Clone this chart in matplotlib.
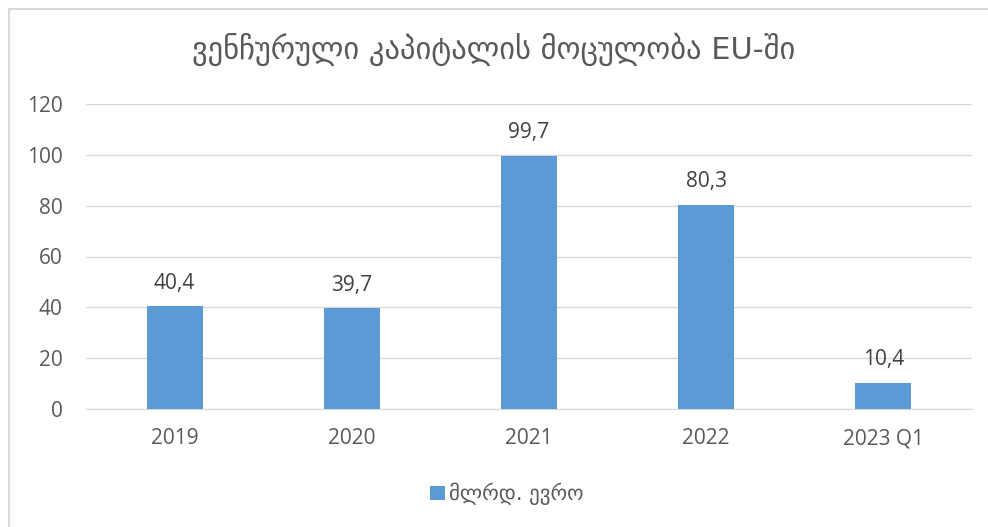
import matplotlib
matplotlib.use("Agg")
import matplotlib.pyplot as plt
from matplotlib.lines import Line2D

plt.rcParams['font.family'] = ['Open Sans', 'DejaVu Sans']

categories = ['2019', '2020', '2021', '2022', '2023 Q1']
values = [40.4, 39.7, 99.7, 80.3, 10.4]
labels = ['40,4', '39,7', '99,7', '80,3', '10,4']
yticks = [0, 20, 40, 60, 80, 100, 120]
title = 'ვენჩურული კაპიტალის მოცულობა EU-ში'
legend_label = 'მლრდ. ევრო'

W, H = 988, 527
fig = plt.figure(figsize=(W / 100, H / 100), dpi=100)
ax = fig.add_axes([86 / W, 118 / H, (972 - 86) / W, (423 - 118) / H])

text_color = '#595959'
bar_color = '#5B9BD5'
grid_color = '#D9D9D9'

x = range(len(categories))
bars = ax.bar(x, values, width=0.316, color=bar_color, zorder=3, label=legend_label)
for xi, v, lab in zip(x, values, labels):
    ax.annotate(lab, (xi, v), xytext=(0, 9), textcoords='offset points',
                ha='center', va='bottom', fontsize=15, color='#404040')

ax.set_xlim(-0.5, len(categories) - 0.5)
ax.set_ylim(0, 120)
ax.set_yticks(yticks)
ax.set_yticklabels([str(t) for t in yticks])
ax.set_xticks(list(x))
ax.set_xticklabels(categories)
ax.tick_params(axis='both', length=0, labelsize=15, colors=text_color)
ax.tick_params(axis='y', pad=17)
ax.tick_params(axis='x', pad=14)
ax.grid(axis='y', color=grid_color, linewidth=1, zorder=0)
for s in ['top', 'right', 'left']:
    ax.spines[s].set_visible(False)
ax.spines['bottom'].set_color(grid_color)
ax.spines['bottom'].set_zorder(1)

fig.text(0.5, 1 - 49 / H, title, ha='center', va='center', fontsize=22,
         color=text_color, family=['DejaVu Sans'])

leg = fig.legend(handles=[bars], labels=[legend_label], loc='center',
                 bbox_to_anchor=(507 / W, 1 - 494 / H), frameon=False,
                 fontsize=15, handlelength=0.7, handleheight=0.7,
                 handletextpad=0.2, labelcolor=text_color,
                 prop={'family': ['DejaVu Sans'], 'size': 15})

# chart-area border
fig.add_artist(Line2D([9 / W, 1], [1 - 9 / H, 1 - 9 / H], color='#D9D9D9', lw=1.5,
                      transform=fig.transFigure))
fig.add_artist(Line2D([9 / W, 9 / W], [0, 1 - 9 / H], color='#D9D9D9', lw=1.5,
                      transform=fig.transFigure))

fig.savefig('out.png', dpi=100)
